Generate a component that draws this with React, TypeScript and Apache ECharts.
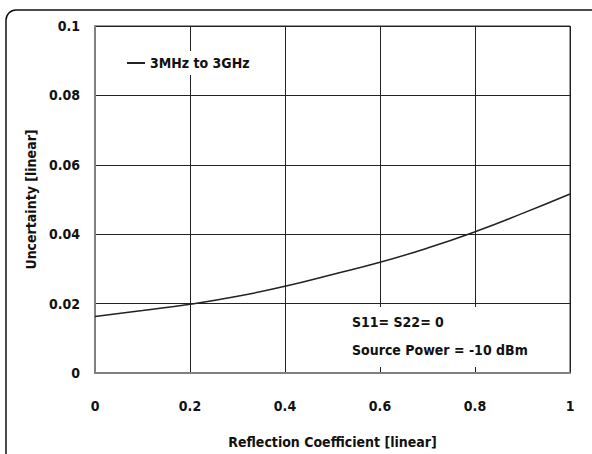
import React, { useEffect, useRef } from "react";
import * as echarts from "echarts";

const seriesName = "3MHz to 3GHz";
const reflection = [0, 0.1, 0.2, 0.3, 0.4, 0.5, 0.6, 0.7, 0.8, 0.9, 1.0];
const uncertainty = [0.0163, 0.018, 0.0198, 0.0221, 0.025, 0.0284, 0.0319, 0.036, 0.0407, 0.046, 0.0516];
const noteLines = ["S11= S22= 0", "Source Power = -10 dBm"];
const xAxisName = "Reflection Coefficient [linear]";
const yAxisName = "Uncertainty [linear]";

const FONT = "'Liberation Sans Narrow', 'DejaVu Sans Condensed', 'Arial Narrow', sans-serif";

export default function App() {
  const ref = useRef<HTMLDivElement>(null);
  useEffect(() => {
    if (!ref.current) return;
    const chart = echarts.init(ref.current, undefined, { renderer: "svg" });
    const data = reflection.map((x, i) => [x, uncertainty[i]]);
    chart.setOption({
      animation: false,
      backgroundColor: "#fff",
      grid: {
        left: 95,
        top: 26,
        width: 475,
        height: 347,
        show: true,
        borderColor: "#333",
        borderWidth: 1,
        outerBoundsMode: "none",
        containLabel: false,
      },
      legend: {
        show: true,
        left: 122,
        top: 51,
        data: [seriesName],
        backgroundColor: "#fff",
        padding: [5, 6, 5, 4],
        itemWidth: 18,
        itemHeight: 2,
        itemGap: 5,
        textStyle: { fontFamily: FONT, fontWeight: "bold", fontSize: 14, color: "#111" },
      },
      xAxis: {
        type: "value",
        min: 0,
        max: 1,
        interval: 0.2,
        name: xAxisName,
        nameLocation: "middle",
        nameGap: 62,
        nameTextStyle: { fontFamily: FONT, fontWeight: "bold", fontSize: 14, color: "#111" },
        axisLine: { show: true, lineStyle: { color: "#808080", width: 2 } },
        axisTick: { show: false },
        axisLabel: {
          margin: 26,
          fontFamily: FONT,
          fontWeight: "bold",
          fontSize: 14,
          color: "#111",
          formatter: (v: number) => String(+v.toFixed(1)),
        },
        splitLine: { show: true, lineStyle: { color: "#222", width: 1 } },
      },
      yAxis: {
        type: "value",
        min: 0,
        max: 0.1,
        interval: 0.02,
        name: yAxisName,
        nameLocation: "middle",
        nameGap: 56,
        nameTextStyle: { fontFamily: FONT, fontWeight: "bold", fontSize: 14, color: "#111" },
        axisLine: { show: true, lineStyle: { color: "#808080", width: 2 } },
        axisTick: { show: false },
        axisLabel: {
          margin: 15,
          fontFamily: FONT,
          fontWeight: "bold",
          fontSize: 14,
          color: "#111",
          formatter: (v: number) => String(+v.toFixed(2)),
        },
        splitLine: { show: true, lineStyle: { color: "#222", width: 1 } },
      },
      series: [
        {
          name: seriesName,
          type: "line",
          data,
          smooth: true,
          symbol: "none",
          lineStyle: { color: "#222", width: 1.5 },
          itemStyle: { color: "#222" },
          z: 3,
        },
      ],
      graphic: [
        {
          type: "rect",
          shape: { x: 6, y: 10, width: 620, height: 470, r: 10 },
          style: { fill: "none", stroke: "#111", lineWidth: 1.5 },
          silent: true,
          z: 100,
        },
        {
          type: "rect",
          shape: { x: 346, y: 307, width: 200, height: 60 },
          style: { fill: "#fff" },
          z: 50,
        },
        {
          type: "text",
          x: 352,
          y: 322,
          style: {
            text: noteLines[0],
            fontFamily: FONT,
            fontWeight: "bold",
            fontSize: 14,
            fill: "#111",
            verticalAlign: "middle",
          },
          z: 51,
        },
        {
          type: "text",
          x: 352,
          y: 350,
          style: {
            text: noteLines[1],
            fontFamily: FONT,
            fontWeight: "bold",
            fontSize: 14,
            fill: "#111",
            verticalAlign: "middle",
          },
          z: 51,
        },
      ],
    });
    return () => chart.dispose();
  }, []);
  return (
    <div
      ref={ref}
      style={{ position: "fixed", left: 0, top: 0, width: 592, height: 454, background: "#fff" }}
    />
  );
}
